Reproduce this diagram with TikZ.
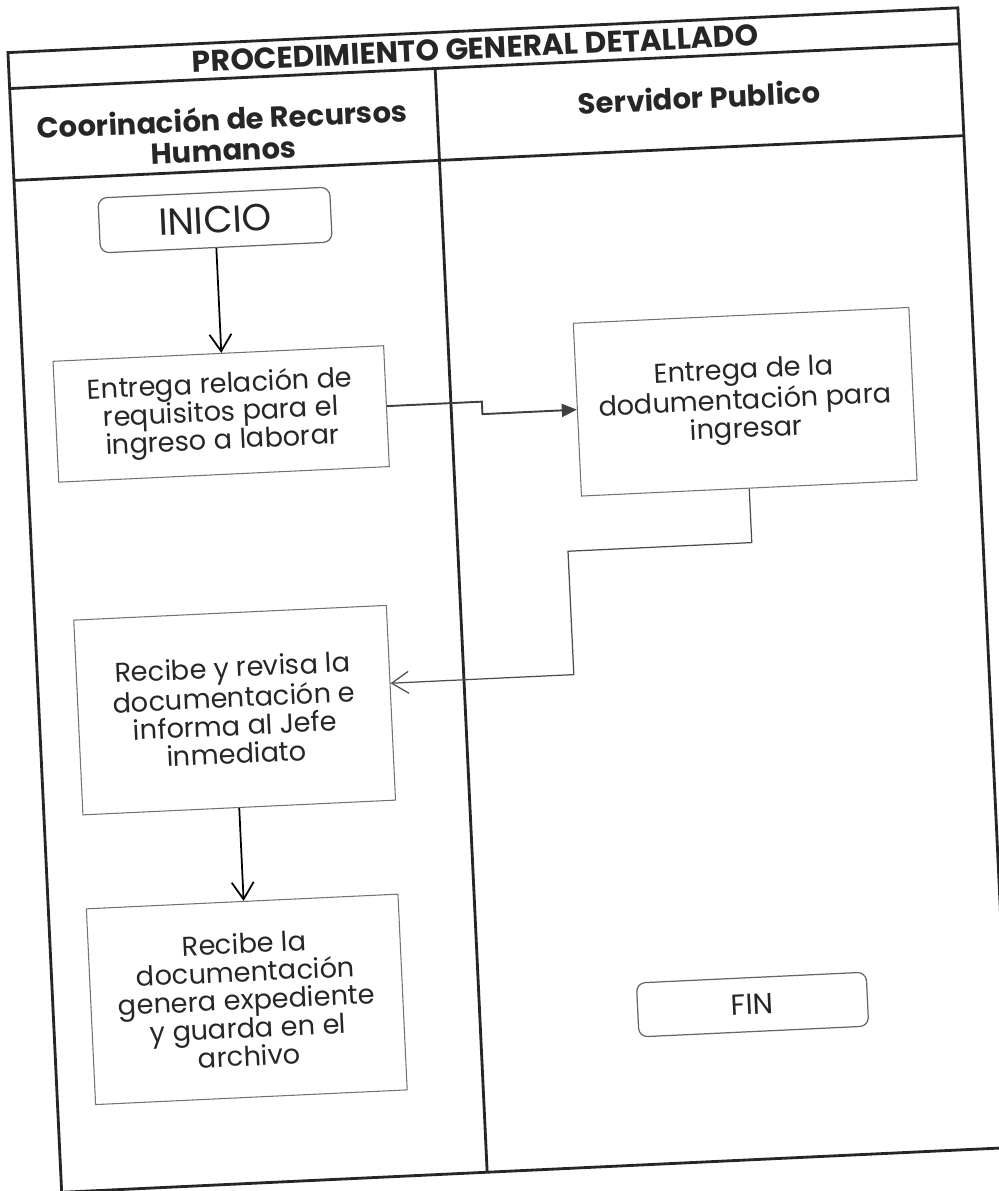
\documentclass[tikz,border=0pt]{standalone}
\usepackage{fontspec}
\setmainfont{Poppins}
\usetikzlibrary{arrows.meta}

\newcommand{\cajafont}{\fontsize{15.5}{16}\selectfont}
\newcommand{\cabfont}{\fontsize{16.5}{17.5}\selectfont\bfseries}
\newcommand{\titfont}{\fontsize{17}{19}\selectfont\bfseries}

\begin{document}
\begin{tikzpicture}[
        x=0.02cm, y=-0.02cm,
        linea/.style={line width=1.6pt, draw=black!85},
        paso/.style={rectangle, draw=black!55, line width=0.6pt, align=center, font=\cajafont, text=black!85},
        extremo/.style={rectangle, rounded corners=5pt, draw=black!60, line width=0.7pt, text=black!85},
        flecha/.style={-{Straight Barb[length=3.4mm,width=4.4mm]}, line width=1pt},
        flechallena/.style={-{Triangle[length=3mm,width=2.6mm]}, line width=1.1pt, draw=black!75}
    ]
    \useasboundingbox (0,0) rectangle (999,1191);
    \fill[white] (0,0) rectangle (999,1191);
    \clip (0,0) rectangle (999,1191);

    \begin{scope}[rotate around={2.7:(500,595)}, transform shape]
        % Marco y carriles
        \draw[linea] (34,30) rectangle (985,1171);
        \draw[linea] (34,66) -- (985,66);
        \draw[linea] (34,158) -- (985,158);
        \draw[linea] (460,66) -- (460,1171);

        % Encabezados
        \node[font=\titfont, text=black!85] (titulo) at (501,48) {PROCEDIMIENTO GENERAL DETALLADO};
        \node[font=\cabfont, text=black!85, align=center] (carrilrh) at (245,121) {Coorinación de Recursos\\Humanos};
        \node[font=\cabfont, text=black!85] (carrilsp) at (722.5,107) {Servidor Publico};

        % Pasos
        \node[extremo, minimum width=4.64cm, minimum height=1.1cm, font=\fontsize{21.5}{23}\selectfont] (inicio) at (233,207) {INICIO};
        \node[paso, minimum width=6.62cm, minimum height=2.42cm] (req) at (230,401) {Entrega relación de\\requisitos para el\\ingreso a laborar};
        \node[paso, minimum width=6.72cm, minimum height=3.46cm] (doc) at (754,413.5) {Entrega de la\\dodumentación para\\ingresar};
        \node[paso, minimum width=6.26cm, minimum height=3.9cm] (rev) at (229.5,697.5) {Recibe y revisa la\\documentación e\\informa al Jefe\\inmediato};
        \node[paso, minimum width=6.24cm, minimum height=3.92cm] (arch) at (228,987) {Recibe la\\documentación\\genera expediente\\y guarda en el\\archivo};
        \node[extremo, minimum width=4.6cm, minimum height=1.08cm, font=\fontsize{16.5}{18}\selectfont] (fin) at (733,1016) {FIN};

        % Conexiones
        \coordinate (codo) at (570,678);
        \draw[flecha] (inicio.south) -- (inicio.south |- req.north);
        \draw[flechallena] (req.east) -- ++(95,0) |- (doc.west);
        \draw[flecha, line width=0.7pt, draw=black!70] (doc.south) -- ++(0,54) -| (codo) -- (codo -| rev.east);
        \draw[flecha] (rev.south) -- (rev.south |- arch.north);
    \end{scope}
\end{tikzpicture}
\end{document}
